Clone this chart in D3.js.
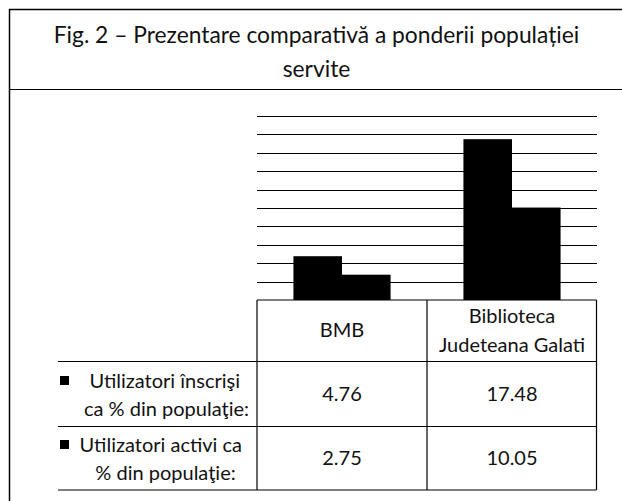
<!DOCTYPE html>
<html>
<head>
<meta charset="utf-8">
<script src="https://cdn.jsdelivr.net/npm/d3@7"></script>
<style>
  body { margin: 0; background: #fff; }
  svg text { font-family: Lato, "Open Sans", sans-serif; fill: #111; }
</style>
</head>
<body>
<div class="chart"></div>
<script>
//// data
const titleLines = ['Fig. 2 \u2013 Prezentare comparativă a ponderii populației', 'servite'];
const categories = ['BMB', 'Biblioteca Judeteana Galati'];
const categoryLines = [['BMB'], ['Biblioteca', 'Judeteana Galati']];
const seriesNames = ['Utilizatori înscrişi ca % din populaţie:', 'Utilizatori activi ca % din populaţie:'];
const seriesLines = [['Utilizatori înscrişi', 'ca % din populaţie:'], ['Utilizatori activi ca', '% din populaţie:']];
const inscrisi = [4.76, 17.48];
const activi = [2.75, 10.05];
const yTicks = [2, 4, 6, 8, 10, 12, 14, 16, 18, 20];

const series = [inscrisi, activi];

//// layout
const W = 622, H = 501;
const svg = d3.select('.chart').append('svg')
    .attr('width', W)
    .attr('height', H);

// outer frame + title box
svg.append('line').attr('x1', 9.5).attr('x2', 9.5).attr('y1', 9).attr('y2', H).attr('stroke', '#000').attr('stroke-width', 1.5);
svg.append('line').attr('x1', 9).attr('x2', W).attr('y1', 9.5).attr('y2', 9.5).attr('stroke', '#000').attr('stroke-width', 1.5);
svg.append('line').attr('x1', 9).attr('x2', W).attr('y1', 89.5).attr('y2', 89.5).attr('stroke', '#000').attr('stroke-width', 1.2);

svg.selectAll('.title')
    .data(titleLines)
    .enter().append('text')
    .attr('class', 'title')
    .attr('x', 316.5)
    .attr('y', (d, i) => 43 + i * 34)
    .attr('text-anchor', 'middle')
    .style('font-size', '22.8px')
    .text(d => d);

// scales
const x = d3.scaleBand().domain(categories).range([257, 597]);
const xs = d3.scaleBand().domain(seriesNames).range([0, x.bandwidth()]).paddingInner(0).paddingOuter(0.75);
const y = d3.scaleLinear().domain([0, 20]).range([300, 116]);

// gridlines
svg.append('g')
    .selectAll('line')
    .data(yTicks)
    .enter().append('line')
    .attr('x1', x.range()[0])
    .attr('x2', x.range()[1])
    .attr('y1', d => Math.round(y(d)) + 0.5)
    .attr('y2', d => Math.round(y(d)) + 0.5)
    .attr('stroke', '#000')
    .attr('stroke-width', 1);

// bars
const groups = svg.append('g').selectAll('g')
    .data(categories)
    .enter().append('g')
    .attr('transform', d => `translate(${x(d)},0)`);

groups.selectAll('rect')
    .data((d, ci) => seriesNames.map((s, si) => ({s: s, v: series[si][ci]})))
    .enter().append('rect')
    .attr('x', d => xs(d.s))
    .attr('width', xs.bandwidth())
    .attr('y', d => y(d.v))
    .attr('height', d => y(0) - y(d.v))
    .attr('fill', '#000');

//// data table
const rowY = [300, 361.5, 426.5, 490];
const colX = [58, 257, 427, 596.5];
const tbl = svg.append('g').attr('stroke', '#000').attr('stroke-width', 1.2);

// horizontal rules
tbl.append('line').attr('x1', colX[1]).attr('x2', colX[3]).attr('y1', rowY[0]).attr('y2', rowY[0]);
[1, 2, 3].forEach(i => {
    tbl.append('line').attr('x1', colX[0]).attr('x2', colX[3]).attr('y1', rowY[i]).attr('y2', rowY[i]);
});
// vertical rules
[1, 2, 3].forEach(i => {
    tbl.append('line').attr('x1', colX[i]).attr('x2', colX[i]).attr('y1', rowY[0]).attr('y2', rowY[3]);
});

// header
const headerBase = [[337], [323, 351.5]];
categoryLines.forEach((lines, ci) => {
    const cx = x(categories[ci]) + x.bandwidth() / 2;
    svg.selectAll(null)
        .data(lines)
        .enter().append('text')
        .attr('x', cx)
        .attr('y', (d, i) => headerBase[ci][i])
        .attr('text-anchor', 'middle')
        .style('font-size', '20px')
        .text(d => d);
});

// rows: legend key, label, values
const labelPos = [
    [{x: 240, y: 388, a: 'end'}, {x: 249, y: 415.5, a: 'end'}],
    [{x: 242, y: 452, a: 'end'}, {x: 165.5, y: 480, a: 'middle'}]
];
seriesLines.forEach((lines, si) => {
    const mid = (rowY[si + 1] + rowY[si + 2]) / 2;
    svg.append('rect')
        .attr('x', 60)
        .attr('y', labelPos[si][0].y - 12)
        .attr('width', 9)
        .attr('height', 9)
        .attr('fill', '#000');
    svg.selectAll(null)
        .data(lines)
        .enter().append('text')
        .attr('x', (d, i) => labelPos[si][i].x)
        .attr('y', (d, i) => labelPos[si][i].y)
        .attr('text-anchor', (d, i) => labelPos[si][i].a)
        .style('font-size', '20px')
        .text(d => d);
    svg.selectAll(null)
        .data(series[si])
        .enter().append('text')
        .attr('x', (d, ci) => x(categories[ci]) + x.bandwidth() / 2)
        .attr('y', mid + 7)
        .attr('text-anchor', 'middle')
        .style('font-size', '20px')
        .text(d => d.toFixed(2));
});
</script>
</body>
</html>
